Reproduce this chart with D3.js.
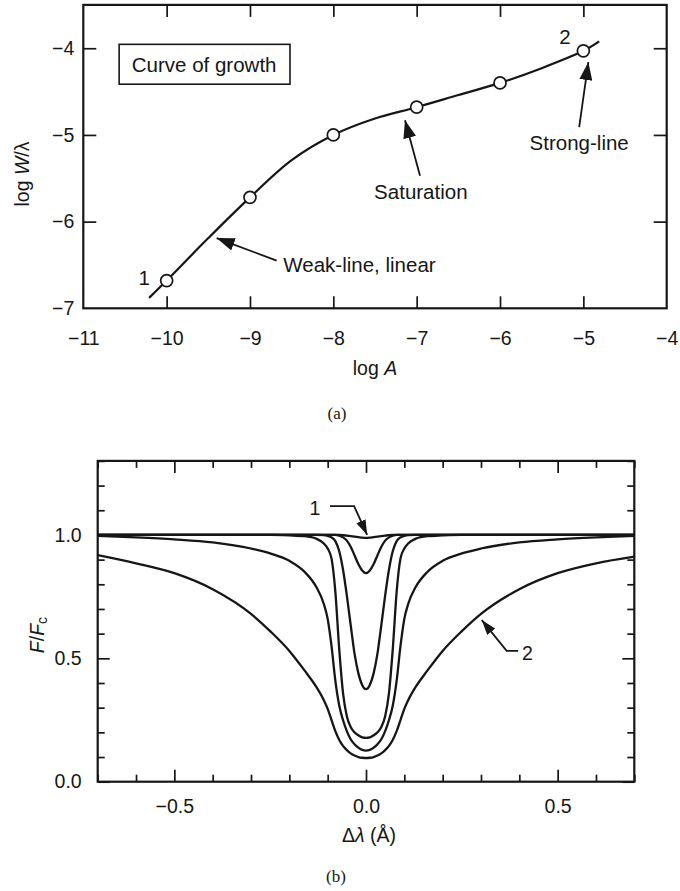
<!DOCTYPE html>
<html>
<head>
<meta charset="utf-8">
<script src="https://cdn.jsdelivr.net/npm/d3@7"></script>
<style>
  body { margin: 0; background: #fff; }
  svg { display: block; }
  text { font-family: "Liberation Sans", Arial, Helvetica, sans-serif; fill: #161616; }
</style>
</head>
<body>
<svg id="fig" width="680" height="891"></svg>
<script>
// ---------- (a) curve of growth ----------
// computed points (open circles)
const cogLogA = [-10, -9, -8, -7, -6, -5];
const cogLogW = [-6.68, -5.72, -5.00, -4.68, -4.40, -4.03];
// smooth curve through the points, with its two short extensions
const cogCurveA = [-10.21, -10, -9.5, -9, -8.5, -8, -7.5, -7, -6.5, -6, -5.5, -5, -4.81];
const cogCurveW = [-6.88, -6.68, -6.19, -5.72, -5.29, -5.00, -4.81, -4.68, -4.54, -4.40, -4.23, -4.03, -3.92];
const cogXTicks = [-11, -10, -9, -8, -7, -6, -5, -4];
const cogYTicks = [-7, -6, -5, -4];

// ---------- (b) line profiles ----------
const dLambda = [-0.7, -0.6, -0.5, -0.4, -0.3, -0.25, -0.2, -0.16, -0.13, -0.11, -0.1, -0.09, -0.08, -0.07,
  -0.06, -0.05, -0.04, -0.03, -0.02, -0.01, 0, 0.01, 0.02, 0.03, 0.04, 0.05, 0.06,
  0.07, 0.08, 0.09, 0.1, 0.11, 0.13, 0.16, 0.2, 0.25, 0.3, 0.4, 0.5, 0.6, 0.7];
// F/Fc for log A = -10 ... -5 (profile 1 is the weakest, profile 2 the strongest)
const fluxA10 = [1, 1, 1, 1, 1, 1, 1, 1, 1, 1, 1, 1, 1, 1,
  0.999, 0.997, 0.995, 0.993, 0.991, 0.989, 0.988, 0.989, 0.991, 0.993, 0.995, 0.997, 0.999,
  1, 1, 1, 1, 1, 1, 1, 1, 1, 1, 1, 1, 1, 1];
const fluxA9 = [1, 1, 1, 1, 1, 1, 1, 1, 1, 1, 1, 1, 1, 0.997,
  0.990, 0.977, 0.952, 0.918, 0.882, 0.856, 0.845, 0.856, 0.882, 0.918, 0.952, 0.977, 0.990,
  0.997, 1, 1, 1, 1, 1, 1, 1, 1, 1, 1, 1, 1, 1];
const fluxA8 = [1, 1, 1, 1, 1, 1, 1, 1, 1, 0.999, 0.996, 0.990, 0.975, 0.935,
  0.860, 0.755, 0.635, 0.520, 0.440, 0.392, 0.375, 0.392, 0.440, 0.520, 0.635, 0.755, 0.860,
  0.935, 0.975, 0.990, 0.996, 0.999, 1, 1, 1, 1, 1, 1, 1, 1, 1];
const fluxA7 = [1, 1, 1, 1, 1, 1, 0.998, 0.995, 0.985, 0.965, 0.945, 0.905, 0.770, 0.540,
  0.360, 0.265, 0.222, 0.200, 0.188, 0.180, 0.178, 0.180, 0.188, 0.200, 0.222, 0.265, 0.360,
  0.540, 0.770, 0.905, 0.945, 0.965, 0.985, 0.995, 0.998, 1, 1, 1, 1, 1, 1];
const fluxA6 = [0.996, 0.990, 0.982, 0.970, 0.945, 0.925, 0.895, 0.850, 0.790, 0.720, 0.660, 0.550, 0.410, 0.310,
  0.250, 0.205, 0.172, 0.152, 0.138, 0.129, 0.126, 0.129, 0.138, 0.152, 0.172, 0.205, 0.250,
  0.310, 0.410, 0.550, 0.660, 0.720, 0.790, 0.850, 0.895, 0.925, 0.945, 0.970, 0.982, 0.990, 0.996];
const fluxA5 = [0.918, 0.885, 0.845, 0.780, 0.680, 0.610, 0.530, 0.450, 0.385, 0.330, 0.295, 0.250, 0.205, 0.170,
  0.145, 0.128, 0.115, 0.106, 0.100, 0.097, 0.096, 0.097, 0.100, 0.106, 0.115, 0.128, 0.145,
  0.170, 0.205, 0.250, 0.295, 0.330, 0.385, 0.450, 0.530, 0.610, 0.680, 0.780, 0.845, 0.885, 0.912];
const profiles = [fluxA10, fluxA9, fluxA8, fluxA7, fluxA6, fluxA5];
const profXMajor = [-0.5, 0, 0.5];
const profYMajor = [0, 0.5, 1.0];

const ink = "#161616";
const svg = d3.select("#fig");

// arrowhead markers
const defs = svg.append("defs");
function addHead(id, len, wid) {
  defs.append("marker")
    .attr("id", id)
    .attr("markerUnits", "userSpaceOnUse")
    .attr("markerWidth", len).attr("markerHeight", wid)
    .attr("refX", len).attr("refY", wid / 2)
    .attr("orient", "auto")
    .append("path")
    .attr("d", `M0,0L${len},${wid / 2}L0,${wid}Z`)
    .attr("fill", ink);
}
addHead("headL", 18, 13);
addHead("headS", 15, 10);

function styleAxis(g, fontSize) {
  g.select(".domain").remove();
  g.selectAll(".tick line").attr("stroke", ink).attr("stroke-width", 1.7);
  g.selectAll(".tick text").attr("fill", ink).style("font-size", fontSize + "px")
    .style("font-family", '"Liberation Sans", Arial, sans-serif');
}

// ================= panel (a) =================
const xa = d3.scaleLinear().domain([-11, -4]).range([83.3, 666.7]);
const ya = d3.scaleLinear().domain([-7, -3.5]).range([308.3, 4.9]);
const pa = svg.append("g");

const innerXa = cogXTicks.filter(v => v > -11 && v < -4);
const innerYa = cogYTicks.filter(v => v > -7);

pa.append("g").attr("transform", `translate(0,${ya(-7)})`)
  .call(d3.axisBottom(xa).tickValues(cogXTicks).tickSize(0).tickPadding(23).tickFormat(d3.format("d")))
  .call(g => styleAxis(g, 19.5));
pa.append("g").attr("transform", `translate(${xa(-11)},0)`)
  .call(d3.axisLeft(ya).tickValues(cogYTicks).tickSize(0).tickPadding(9).tickFormat(d3.format("d")))
  .call(g => styleAxis(g, 19.5));
// inward tick marks on all four sides
pa.append("g").attr("transform", `translate(0,${ya(-7)})`)
  .call(d3.axisBottom(xa).tickValues(innerXa).tickSize(-12).tickFormat(""))
  .call(g => styleAxis(g, 19));
pa.append("g").attr("transform", `translate(0,${ya(-3.5)})`)
  .call(d3.axisTop(xa).tickValues(innerXa).tickSize(-12).tickFormat(""))
  .call(g => styleAxis(g, 19));
pa.append("g").attr("transform", `translate(${xa(-11)},0)`)
  .call(d3.axisLeft(ya).tickValues(innerYa).tickSize(-13).tickFormat(""))
  .call(g => styleAxis(g, 19));
pa.append("g").attr("transform", `translate(${xa(-4)},0)`)
  .call(d3.axisRight(ya).tickValues(innerYa).tickSize(-13).tickFormat(""))
  .call(g => styleAxis(g, 19));

pa.append("rect")
  .attr("x", xa(-11)).attr("y", ya(-3.5))
  .attr("width", xa(-4) - xa(-11)).attr("height", ya(-7) - ya(-3.5))
  .attr("fill", "none").attr("stroke", ink).attr("stroke-width", 2.2);

// curve of growth
const cogLine = d3.line().x(d => xa(d[0])).y(d => ya(d[1])).curve(d3.curveCatmullRom.alpha(0.5));
pa.append("path")
  .datum(d3.zip(cogCurveA, cogCurveW))
  .attr("d", cogLine)
  .attr("fill", "none").attr("stroke", ink).attr("stroke-width", 2.2);

pa.selectAll("circle.pt")
  .data(d3.zip(cogLogA, cogLogW))
  .join("circle").attr("class", "pt")
  .attr("cx", d => xa(d[0])).attr("cy", d => ya(d[1])).attr("r", 6)
  .attr("fill", "#fff").attr("stroke", ink).attr("stroke-width", 1.7);

// legend box
pa.append("rect")
  .attr("x", xa(-10.57)).attr("y", ya(-3.955))
  .attr("width", xa(-8.52) - xa(-10.57)).attr("height", ya(-4.415) - ya(-3.955))
  .attr("fill", "#fff").attr("stroke", ink).attr("stroke-width", 1.6);
pa.append("text")
  .attr("x", xa(-9.55)).attr("y", ya(-4.19))
  .attr("text-anchor", "middle").attr("dominant-baseline", "central")
  .style("font-size", "20.5px").text("Curve of growth");

// annotations: [text, x, y, anchor]
const aLabels = [
  ["1", -10.27, -6.64, "middle"],
  ["2", -5.22, -3.86, "middle"],
  ["Weak-line, linear", -8.6, -6.49, "start"],
  ["Saturation", -6.95, -5.65, "middle"],
  ["Strong-line", -5.05, -5.09, "middle"]
];
pa.selectAll("text.ann").data(aLabels).join("text").attr("class", "ann")
  .attr("x", d => xa(d[1])).attr("y", d => ya(d[2]))
  .attr("text-anchor", d => d[3]).attr("dominant-baseline", "central")
  .style("font-size", "20.5px").text(d => d[0]);

// arrows: tail -> head
const aArrows = [
  [[-8.68, -6.45], [-9.40, -6.19]],
  [[-6.96, -5.47], [-7.14, -4.83]],
  [[-5.05, -4.91], [-4.94, -4.16]]
];
pa.selectAll("path.arr").data(aArrows).join("path").attr("class", "arr")
  .attr("d", d => d3.line()(d.map(p => [xa(p[0]), ya(p[1])])))
  .attr("fill", "none").attr("stroke", ink).attr("stroke-width", 1.8)
  .attr("marker-end", "url(#headL)");

// axis titles
pa.append("text")
  .attr("transform", "translate(22,174) rotate(-90)")
  .attr("text-anchor", "middle").attr("dominant-baseline", "central")
  .style("font-size", "19.5px")
  .call(t => { t.append("tspan").text("log "); t.append("tspan").style("font-style", "italic").text("W"); t.append("tspan").text("/λ"); });
pa.append("text")
  .attr("x", 375).attr("y", 368)
  .attr("text-anchor", "middle").attr("dominant-baseline", "central")
  .style("font-size", "19.5px")
  .call(t => { t.append("tspan").text("log "); t.append("tspan").style("font-style", "italic").text("A"); });
pa.append("text")
  .attr("x", 337).attr("y", 413)
  .attr("text-anchor", "middle").attr("dominant-baseline", "central")
  .style("font-family", '"Liberation Serif", "Times New Roman", serif').style("font-size", "17px")
  .text("(a)");

// ================= panel (b) =================
const xb = d3.scaleLinear().domain([-0.7, 0.7]).range([97.7, 634.3]);
const yb = d3.scaleLinear().domain([0, 1.3]).range([781.7, 460.9]);
const pb = svg.append("g");

const xbAll = d3.range(-7, 8).map(i => i / 10);
const ybAll = d3.range(0, 14).map(i => i / 10);
const isMajor = (v, list) => list.some(m => Math.abs(m - v) < 1e-9);
const xbMinor = xbAll.filter(v => !isMajor(v, profXMajor));
const ybMinor = ybAll.filter(v => !isMajor(v, profYMajor));

// labels
pb.append("g").attr("transform", `translate(0,${yb(0)})`)
  .call(d3.axisBottom(xb).tickValues(profXMajor).tickSize(0).tickPadding(17).tickFormat(d3.format(".1f")))
  .call(g => styleAxis(g, 19.5));
pb.append("g").attr("transform", `translate(${xb(-0.7)},0)`)
  .call(d3.axisLeft(yb).tickValues(profYMajor).tickSize(0).tickPadding(16).tickFormat(d3.format(".1f")))
  .call(g => styleAxis(g, 19.5));
// inward ticks, minor and major, on all sides
[[xbMinor, 7], [profXMajor, 12]].forEach(([vals, len]) => {
  pb.append("g").attr("transform", `translate(0,${yb(0)})`)
    .call(d3.axisBottom(xb).tickValues(vals).tickSize(-len).tickFormat(""))
    .call(g => styleAxis(g, 19));
  pb.append("g").attr("transform", `translate(0,${yb(1.3)})`)
    .call(d3.axisTop(xb).tickValues(vals).tickSize(-len).tickFormat(""))
    .call(g => styleAxis(g, 19));
});
[[ybMinor, 7], [profYMajor, 12]].forEach(([vals, len]) => {
  pb.append("g").attr("transform", `translate(${xb(-0.7)},0)`)
    .call(d3.axisLeft(yb).tickValues(vals).tickSize(-len).tickFormat(""))
    .call(g => styleAxis(g, 19));
  pb.append("g").attr("transform", `translate(${xb(0.7)},0)`)
    .call(d3.axisRight(yb).tickValues(vals).tickSize(-len).tickFormat(""))
    .call(g => styleAxis(g, 19));
});

pb.append("rect")
  .attr("x", xb(-0.7)).attr("y", yb(1.3))
  .attr("width", xb(0.7) - xb(-0.7)).attr("height", yb(0) - yb(1.3))
  .attr("fill", "none").attr("stroke", ink).attr("stroke-width", 2.2);

const profLine = d3.line().x(d => xb(d[0])).y(d => yb(d[1])).curve(d3.curveMonotoneX);
pb.selectAll("path.prof").data(profiles).join("path").attr("class", "prof")
  .attr("d", f => profLine(d3.zip(dLambda, f)))
  .attr("fill", "none").attr("stroke", ink).attr("stroke-width", 2.3);

// profile labels with leader arrows
pb.append("text").attr("x", xb(-0.133)).attr("y", yb(1.11))
  .attr("text-anchor", "middle").attr("dominant-baseline", "central")
  .style("font-size", "19.5px").text("1");
pb.append("path")
  .attr("d", d3.line()([[-0.094, 1.117], [-0.031, 1.117], [0.003, 1.0]].map(p => [xb(p[0]), yb(p[1])])))
  .attr("fill", "none").attr("stroke", ink).attr("stroke-width", 1.8)
  .attr("marker-end", "url(#headS)");
pb.append("text").attr("x", xb(0.421)).attr("y", yb(0.52))
  .attr("text-anchor", "middle").attr("dominant-baseline", "central")
  .style("font-size", "19.5px").text("2");
pb.append("path")
  .attr("d", d3.line()([[0.397, 0.53], [0.367, 0.53], [0.302, 0.655]].map(p => [xb(p[0]), yb(p[1])])))
  .attr("fill", "none").attr("stroke", ink).attr("stroke-width", 1.8)
  .attr("marker-end", "url(#headS)");

// axis titles
pb.append("text")
  .attr("transform", "translate(37,635) rotate(-90)")
  .attr("text-anchor", "middle").attr("dominant-baseline", "central")
  .style("font-size", "19.5px")
  .call(t => {
    t.append("tspan").style("font-style", "italic").text("F");
    t.append("tspan").text("/");
    t.append("tspan").style("font-style", "italic").text("F");
    t.append("tspan").attr("dy", 5).style("font-size", "14px").text("c");
  });
pb.append("text")
  .attr("x", 369).attr("y", 835)
  .attr("text-anchor", "middle").attr("dominant-baseline", "central")
  .style("font-size", "19.5px")
  .call(t => { t.append("tspan").text("Δ"); t.append("tspan").style("font-style", "italic").text("λ"); t.append("tspan").text(" (Å)"); });
pb.append("text")
  .attr("x", 336).attr("y", 876)
  .attr("text-anchor", "middle").attr("dominant-baseline", "central")
  .style("font-family", '"Liberation Serif", "Times New Roman", serif').style("font-size", "17px")
  .text("(b)");
</script>
</body>
</html>
